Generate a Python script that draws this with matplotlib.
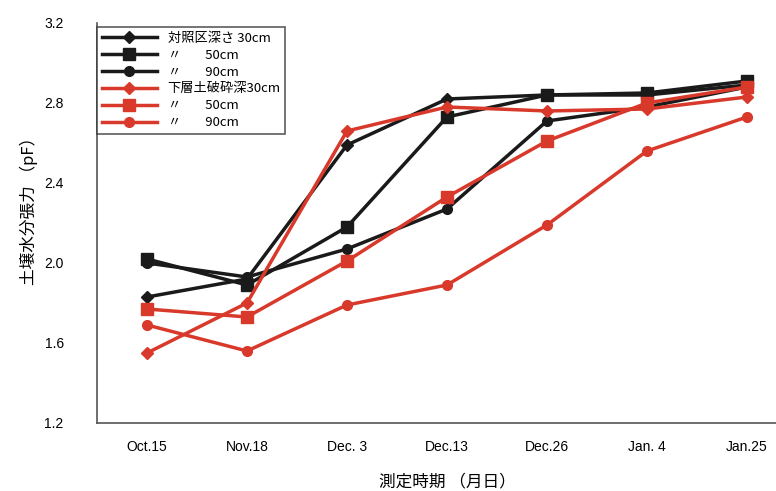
import matplotlib
matplotlib.use("Agg")
import matplotlib.pyplot as plt

plt.rcParams['font.family'] = ['Noto Sans CJK JP', 'DejaVu Sans']

dates = ["Oct.15", "Nov.18", "Dec. 3", "Dec.13", "Dec.26", "Jan. 4", "Jan.25"]

# 対照区 (control)
ctrl_30 = [1.83, 1.92, 2.59, 2.82, 2.84, 2.84, 2.89]
ctrl_50 = [2.02, 1.89, 2.18, 2.73, 2.84, 2.85, 2.91]
ctrl_90 = [2.00, 1.93, 2.07, 2.27, 2.71, 2.78, 2.88]

# 下層土破砕 (subsoil broken)
brk_30 = [1.55, 1.80, 2.66, 2.78, 2.76, 2.77, 2.83]
brk_50 = [1.77, 1.73, 2.01, 2.33, 2.61, 2.80, 2.88]
brk_90 = [1.69, 1.56, 1.79, 1.89, 2.19, 2.56, 2.73]

labels = ["対照区深さ 30cm", "〃        50cm", "〃        90cm",
          "下層土破砕深30cm", "〃        50cm", "〃        90cm"]

black = "#1a1a1a"
red = "#d8392b"

fig = plt.figure(figsize=(7.76, 4.91), dpi=100)
ax = fig.add_axes([0.125, 0.1385, 0.902, 0.8147])

x = range(len(dates))
series = [
    (ctrl_30, black, "D", 6),
    (ctrl_50, black, "s", 8),
    (ctrl_90, black, "o", 7),
    (brk_30, red, "D", 6),
    (brk_50, red, "s", 8),
    (brk_90, red, "o", 7),
]
for (vals, col, mk, ms), lab in zip(series, labels):
    ax.plot(x, vals, color=col, marker=mk, markersize=ms, linewidth=2.5,
            label=lab)

ax.set_xlim(-0.5, 6.5)
ax.set_ylim(1.2, 3.2)
ax.set_xticks(list(x))
ax.set_xticklabels(dates, fontsize=10, family=['Liberation Sans', 'DejaVu Sans'])
ax.set_yticks([1.2, 1.6, 2.0, 2.4, 2.8, 3.2])
ax.set_yticklabels(["1.2", "1.6", "2.0", "2.4", "2.8", "3.2"], fontsize=10,
                   family=['Liberation Sans', 'DejaVu Sans'])
ax.tick_params(axis="x", length=0, pad=12)
ax.tick_params(axis="y", length=0, pad=24)

for s in ["top", "right"]:
    ax.spines[s].set_visible(False)
for s in ["left", "bottom"]:
    ax.spines[s].set_color("#555555")
    ax.spines[s].set_linewidth(1.2)

ax.set_ylabel("土壌水分張力 （pF）", fontsize=12)
ax.yaxis.set_label_coords(-0.085, 0.54)
ax.set_xlabel("測定時期 （月日）", fontsize=12)
ax.xaxis.set_label_coords(0.5, -0.125)

leg = ax.legend(loc="upper left", bbox_to_anchor=(0.0, 0.99), fontsize=9.5,
                frameon=True, fancybox=False, edgecolor="#333333",
                handlelength=4.2, borderpad=0.35, labelspacing=0.3,
                borderaxespad=0.0)
leg.get_frame().set_linewidth(1.2)

fig.savefig("out.png", dpi=100)
